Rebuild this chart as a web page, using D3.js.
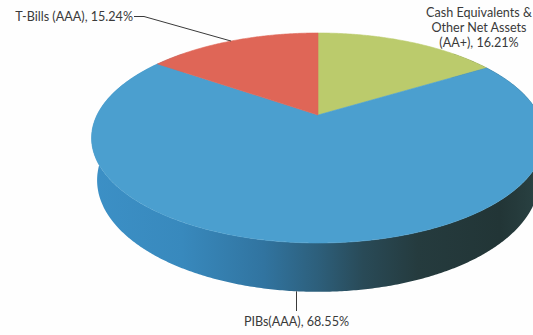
<!DOCTYPE html>
<html><head><meta charset="utf-8">
<script src="https://cdn.jsdelivr.net/npm/d3@7"></script>
<style>html,body{margin:0;padding:0;background:#fff;}svg{display:block;}</style>
</head><body>
<svg id="c" width="533" height="335"></svg>
<script>
const categories = ["Cash Equivalents & Other Net Assets (AA+)", "PIBs(AAA)", "T-Bills (AAA)"];
const values = [16.21, 68.55, 15.24];
const labelLines = [["Cash Equivalents &", "Other Net Assets", "(AA+), 16.21%"], ["PIBs(AAA), 68.55%"], ["T-Bills (AAA), 15.24%"]];
const colors = ["#bbcb6c", "#4b9fcf", "#df6657"];

const svg = d3.select("#c");
svg.append("rect").attr("width", 533).attr("height", 335).attr("fill", "#fefefe");

// perspective projection parameters
const cx = 318, cy = 115, F = 900, r = 0.2455, alpha = 26.9 * Math.PI / 180, eta = 0.0528;
function proj(phi, bottom) {
  const s = Math.sin(phi), c = -Math.cos(phi);
  const h = bottom ? eta : 0;
  const X = r * s;
  const Y = r * c * Math.sin(alpha) + h * Math.cos(alpha);
  const dep = 1 - r * c * Math.cos(alpha) + h * Math.sin(alpha);
  return [cx + F * X / dep, cy + F * Y / dep];
}
function centerPt(bottom) {
  const h = bottom ? eta : 0;
  const Y = h * Math.cos(alpha), dep = 1 + h * Math.sin(alpha);
  return [cx, cy + F * Y / dep];
}

const pie = d3.pie().sort(null).startAngle(0).endAngle(2 * Math.PI);
const arcs = pie(values);
const line = d3.line();

function arcPts(a0, a1, bottom) {
  const n = Math.max(2, Math.ceil((a1 - a0) / (Math.PI / 360)));
  return d3.range(n + 1).map(i => proj(a0 + (a1 - a0) * i / n, bottom));
}

const defs = svg.append("defs");
const g = defs.append("linearGradient").attr("id", "side").attr("gradientUnits", "userSpaceOnUse")
  .attr("x1", 91).attr("x2", 545).attr("y1", 0).attr("y2", 0);
[[0, "#3c90c6"], [0.2, "#3889bd"], [0.38, "#3174a0"], [0.5, "#2d5f7b"], [0.6, "#294a57"], [0.72, "#253b3e"], [0.9, "#223536"], [0.97, "#283f40"], [1, "#3a5656"]]
  .forEach(([o, col]) => g.append("stop").attr("offset", o).attr("stop-color", col));

// side wall (front part)
const a0 = 45 * Math.PI / 180, a1 = 315 * Math.PI / 180;
const sidePts = arcPts(a0, a1, false).concat(arcPts(a0, a1, true).reverse());
svg.append("path").attr("d", line(sidePts) + "Z").attr("fill", "url(#side)");

// top faces
svg.selectAll("path.slice").data(arcs).join("path").attr("class", "slice")
  .attr("d", d => line([centerPt(false)].concat(arcPts(d.startAngle, d.endAngle, false))) + "Z")
  .attr("fill", (d, i) => colors[i]).attr("stroke", (d, i) => colors[i]).attr("stroke-width", 0.6);

// labels
const font = "Lato, 'Open Sans', sans-serif";
const txtCol = "#3a3a3a";
const fs = 12.6;
// T-Bills
const tb = arcs[2];
const tbPt = proj((tb.startAngle + tb.endAngle) / 2 - 0.01, false);
svg.append("polyline").attr("points", [[134, 16.5], [144, 16.5], tbPt].map(p => p.join(",")).join(" "))
  .attr("fill", "none").attr("stroke", txtCol).attr("stroke-width", 1);
svg.append("text").attr("x", 133).attr("y", 21).attr("text-anchor", "end")
  .attr("font-family", font).attr("font-size", fs).attr("fill", txtCol).text(labelLines[2][0]);
// Cash
labelLines[0].forEach((t, i) => svg.append("text").attr("x", 479).attr("y", 16.5 + i * 15.3).attr("text-anchor", "middle")
  .attr("font-family", font).attr("font-size", fs).attr("fill", txtCol).text(t));
// PIBs: leader anchored on the front bottom edge of the slice, under its label
const pb = arcs[1];
const labelX = 296.5;
let lo = Math.PI * 0.9, hi = Math.PI * 1.1;
for (let k = 0; k < 40; k++) { const m = (lo + hi) / 2; if (proj(m, true)[0] > labelX) lo = m; else hi = m; }
const pbPt = proj((lo + hi) / 2, true);
svg.append("line").attr("x1", pbPt[0]).attr("x2", pbPt[0]).attr("y1", pbPt[1]).attr("y2", 311)
  .attr("stroke", txtCol).attr("stroke-width", 1);
svg.append("text").attr("x", labelX).attr("y", 326).attr("text-anchor", "middle")
  .attr("font-family", font).attr("font-size", fs).attr("fill", txtCol).text(labelLines[1][0]);
</script>
</body></html>
